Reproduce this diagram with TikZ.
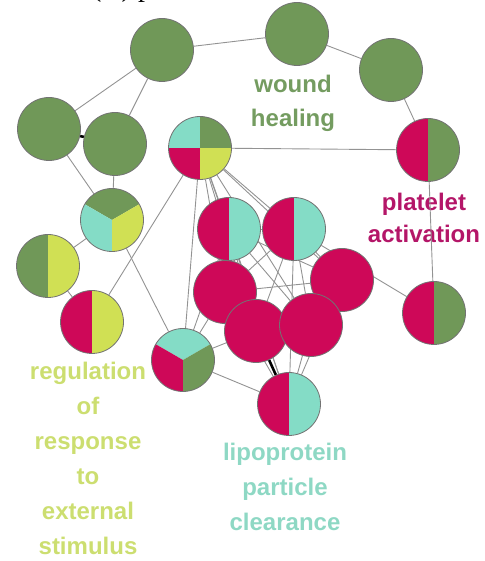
\documentclass[tikz,border=0pt]{standalone}
\usepackage{fontspec}
\setmainfont{Liberation Sans}
\newfontfamily\titlefont{Liberation Serif}
\usetikzlibrary{backgrounds}
\definecolor{gr}{RGB}{112,152,88}
\definecolor{mg}{RGB}{206,8,88}
\definecolor{cy}{RGB}{132,220,198}
\definecolor{yl}{RGB}{208,224,84}
\definecolor{tgr}{RGB}{116,156,96}
\definecolor{tmg}{RGB}{180,22,104}
\definecolor{tyl}{RGB}{204,222,112}
\definecolor{tcy}{RGB}{142,216,196}
\tikzset{
  bub/.style={circle, minimum size=63pt, inner sep=0pt, draw=black!55, line width=0.8pt},
  pieF/.style={bub, fill=#1},
  pieH/.style 2 args={bub, path picture={
    \fill[#1] (path picture bounding box.south west) rectangle (path picture bounding box.north);
    \fill[#2] (path picture bounding box.south) rectangle (path picture bounding box.north east);}},
  pieT/.style n args={3}{bub, path picture={
    \begin{scope}[shift={(path picture bounding box.center)}]
    \fill[#1] (0,0) -- (30:40) arc[start angle=30,end angle=150,radius=40] -- cycle;
    \fill[#2] (0,0) -- (150:40) arc[start angle=150,end angle=270,radius=40] -- cycle;
    \fill[#3] (0,0) -- (270:40) arc[start angle=270,end angle=390,radius=40] -- cycle;
    \end{scope}}},
  pieQ/.style n args={4}{bub, path picture={
    \fill[#1] (path picture bounding box.north west) rectangle (path picture bounding box.center);
    \fill[#2] (path picture bounding box.north east) rectangle (path picture bounding box.center);
    \fill[#3] (path picture bounding box.south west) rectangle (path picture bounding box.center);
    \fill[#4] (path picture bounding box.south east) rectangle (path picture bounding box.center);}},
  lnk/.style={draw=gray!85, line width=0.9pt},
  blk/.style={draw=black, line width=2.6pt},
  lbl/.style={font=\bfseries\fontsize{24}{#1}\selectfont, align=center, inner sep=0pt, anchor=base},
}
\begin{document}
\begin{tikzpicture}[x=1pt,y=1pt]
\useasboundingbox (0,0) rectangle (484,561);
% nodes
\node[pieF=gr] (n1) at (162,511) {};
\node[pieF=gr] (n2) at (297,527) {};
\node[pieF=gr] (n3) at (391,491) {};
\node[pieF=gr] (n4) at (49,432) {};
\node[pieF=gr] (n5) at (115,417) {};
\node[pieQ={cy}{gr}{mg}{yl}] (n6) at (200,413) {};
\node[pieH={mg}{gr}] (n7) at (428,411) {};
\node[pieT={gr}{cy}{yl}] (n8) at (112,341) {};
\node[pieH={gr}{yl}] (n9) at (48,295) {};
\node[pieH={mg}{yl}] (n10) at (92,239) {};
\node[pieT={cy}{mg}{gr}] (n11) at (183,201) {};
\node[pieH={mg}{cy}] (n12) at (229,332) {};
\node[pieH={mg}{cy}] (n13) at (294,332) {};
\node[pieF=mg] (n14) at (225,269) {};
\node[pieF=mg] (n15) at (342,281) {};
\node[pieF=mg] (n16) at (256,230) {};
\node[pieF=mg] (n17) at (311,236) {};
\node[pieH={mg}{cy}] (n18) at (289,157) {};
\node[pieH={mg}{gr}] (n19) at (434,248) {};
\begin{pgfonlayer}{background}
% labels (anchor base = baseline of last line)
\node[font=\titlefont\fontsize{28}{28}\selectfont, anchor=base west, inner sep=0pt] (ttl) at (92,564) {(A) p};
\node[lbl=34, text=tgr] (lw) at (293,434) {wound\\healing};
\node[lbl=32, text=tmg] (lp) at (424,318) {platelet\\activation};
\node[lbl=35, text=tyl] (lr) at (88,6) {regulation\\of\\response\\to\\external\\stimulus};
\node[lbl=35, text=tcy] (ll) at (285,30) {lipoprotein\\particle\\clearance};
% edges
\foreach \a/\b in {n1/n2, n2/n3, n3/n7, n1/n4, n1/n5, n4/n8, n5/n8, n8/n9, n9/n10, n8/n11,
  n10/n6, n6/n7, n6/n11, n11/n18, n13/n19, n7/n19,
  n6/n12, n6/n13, n6/n14, n6/n15, n6/n16, n6/n17, n6/n18,
  n11/n14, n11/n12, n11/n16,
  n12/n13, n12/n15, n12/n16, n12/n17, n12/n18,
  n13/n14, n13/n15, n13/n16, n13/n17, n13/n18,
  n14/n15, n14/n17, n14/n18, n15/n16, n15/n18, n17/n18}
  \draw[lnk] (\a) -- (\b);
\draw[blk] (n4) -- (n5);
\draw[blk] (n12) -- (n14);
\draw[blk] (n16) -- (n18);
\end{pgfonlayer}
\end{tikzpicture}
\end{document}
